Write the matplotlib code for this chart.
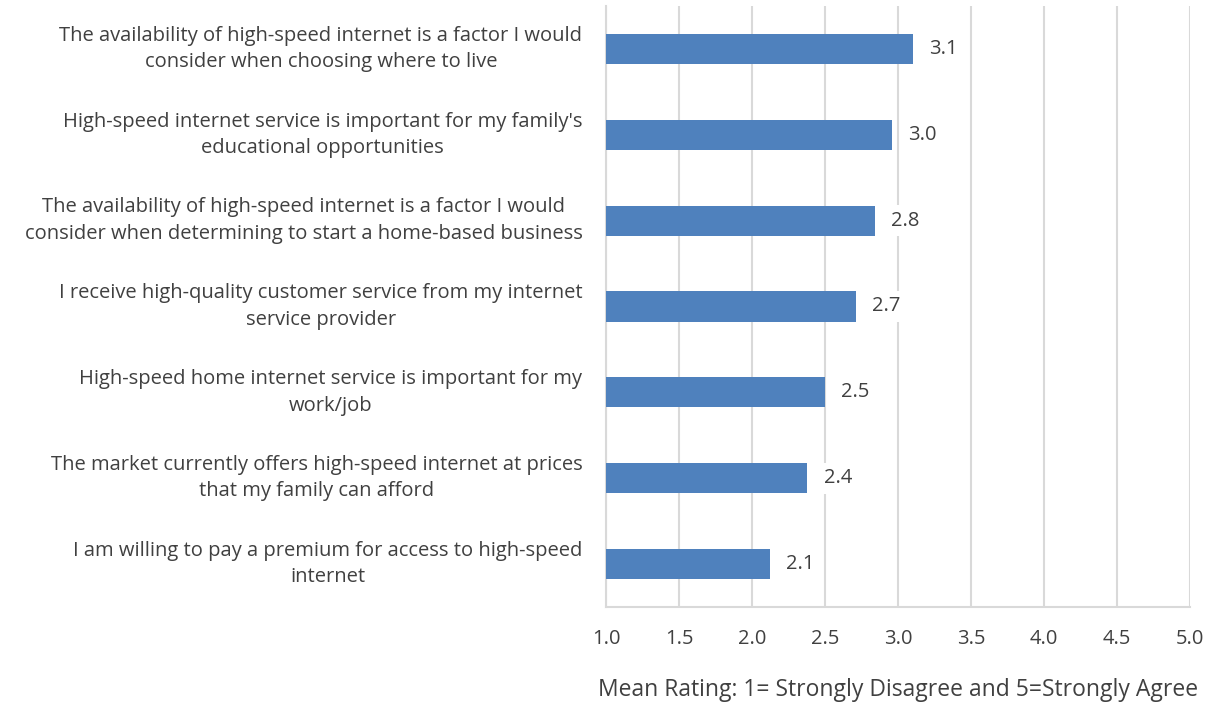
import numpy as np
import matplotlib
matplotlib.use('Agg')
from matplotlib import pyplot as plt

# survey statements, top to bottom
statements = [
    "The availability of high-speed internet is a factor I would\nconsider when choosing where to live",
    "High-speed internet service is important for my family's\neducational opportunities",
    "The availability of high-speed internet is a factor I would\nconsider when determining to start a home-based business",
    "I receive high-quality customer service from my internet\nservice provider",
    "High-speed home internet service is important for my\nwork/job",
    "The market currently offers high-speed internet at prices\nthat my family can afford",
    "I am willing to pay a premium for access to high-speed\ninternet",
]
mean_rating = [3.10, 2.96, 2.84, 2.71, 2.50, 2.38, 2.12]
x_ticks = [1.0, 1.5, 2.0, 2.5, 3.0, 3.5, 4.0, 4.5, 5.0]

text_color = '#404040'
bar_color = '#4f81bd'
plt.rcParams['font.family'] = ['Open Sans', 'DejaVu Sans']

fig = plt.figure(figsize=(12.15, 7.05), dpi=100)
ax = fig.add_axes([0.4988, 0.139, 0.4806, 0.8525])

y = np.arange(len(statements))
ax.barh(y, np.array(mean_rating) - 1.0, left=1.0, height=0.35,
        color=bar_color, zorder=3)

# data labels with white boxes over the grid
for yi, v in zip(y, mean_rating):
    ax.text(v + 0.11, yi, f'{v:.1f}', va='center', ha='left', fontsize=14.5,
            color=text_color, zorder=4,
            bbox=dict(facecolor='white', edgecolor='none', pad=4))

ax.set_xlim(1.0, 5.0)
ax.set_ylim(len(statements) - 0.5, -0.5)
ax.set_xticks(x_ticks)
ax.set_xticklabels([f'{t:.1f}' for t in x_ticks])
ax.set_yticks(y)
ax.set_yticklabels(statements, multialignment='center', linespacing=1.42,
                   va='center')

ax.grid(axis='x', color='#d9d9d9', linewidth=1.5, zorder=0)
ax.tick_params(axis='both', length=0, labelsize=14.5, colors=text_color)
ax.tick_params(axis='x', pad=16)
ax.tick_params(axis='y', pad=17)

for side in ['top', 'right']:
    ax.spines[side].set_visible(False)
for side in ['left', 'bottom']:
    ax.spines[side].set_color('#d9d9d9')
    ax.spines[side].set_linewidth(1.5)

ax.set_xlabel('Mean Rating: 1= Strongly Disagree and 5=Strongly Agree',
              fontsize=16.5, color=text_color, labelpad=21)

fig.savefig('out.png', dpi=100)
